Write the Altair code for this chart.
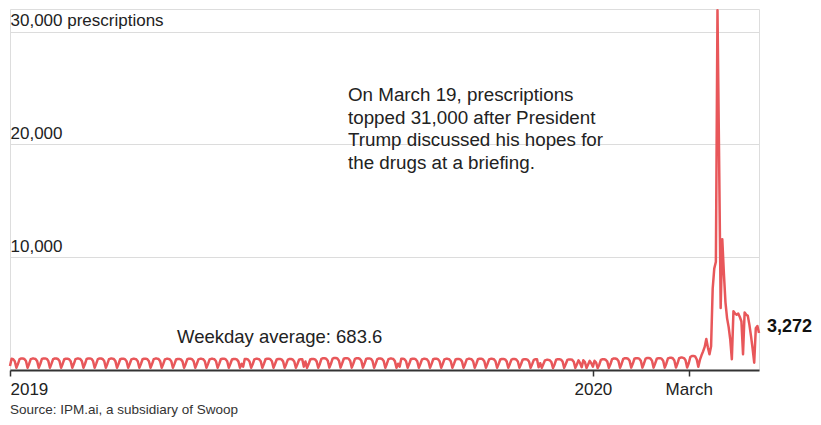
import altair as alt
import pandas as pd

# ---- values ----
# weekday level for each week (weeks start Monday 2018-12-31 ... 2020-02-24)
week_levels = [1000, 1020, 1010, 1030, 1020, 1000, 1010, 1030, 1020,
               1010, 1000, 990, 1000, 1010, 990, 980, 1000, 990,
               990, 1000, 980, 970, 990, 1000, 980, 970, 960,
               980, 1040, 1060, 1050, 1040, 1030, 1020, 1010, 1000,
               1000, 990, 1000, 990, 980, 990, 1000, 990, 980,
               970, 960, 950, 900, 960, 940, 900, 850,
               950, 1020, 1040, 1050, 1060, 1050, 1080, 1100]
# share of the weekday level, Monday ... Sunday
dow_profile = [0.95, 1.0, 1.0, 0.96, 0.78, 0.2, 0.55]
holiday_dates = ["2019-01-01", "2019-05-27", "2019-07-04", "2019-09-02",
                 "2019-11-28", "2019-11-29", "2019-12-24", "2019-12-25",
                 "2019-12-31", "2020-01-01"]
holiday_values = [350, 300, 300, 300, 250, 600, 600, 250, 600, 300]

# daily values from 2020-03-01 to 2020-04-14
tail_start = "2020-03-01"
tail_values = [600, 1150, 1250, 1250, 1200, 950, 280, 900, 1300, 1650,
               2050, 2750, 2000, 1400, 2100, 7200, 9000, 9600, 31900, 19000,
               5500, 11600, 8600, 6000, 4600, 3800, 2700, 950, 5200, 5000,
               4900, 5000, 4700, 4300, 1400, 5100, 4900, 4800, 4000, 3000,
               1900, 650, 3700, 3900, 3272]

y_ticks = [10000, 20000, 30000]
annotation_lines = ["On March 19, prescriptions",
                    "topped 31,000 after President",
                    "Trump discussed his hopes for",
                    "the drugs at a briefing."]
average_label = "Weekday average: 683.6"
source_label = "Source: IPM.ai, a subsidiary of Swoop"

# ---- build the table ----
base_dates = pd.date_range("2019-01-01", "2020-02-29", freq="D")
week0 = pd.Timestamp("2018-12-31")
hol = dict(zip(holiday_dates, holiday_values))
rows = []
for d in base_dates:
    key = d.strftime("%Y-%m-%d")
    wk = (d - week0).days // 7
    v = hol.get(key, round(week_levels[wk] * dow_profile[d.dayofweek]))
    rows.append({"date": key, "value": v})
for i, v in enumerate(tail_values):
    d = pd.Timestamp(tail_start) + pd.Timedelta(days=i)
    rows.append({"date": d.strftime("%Y-%m-%d"), "value": v})
df = pd.DataFrame(rows)

FONT = "Liberation Sans"
RED = "#e8575a"
TXT = "#222222"

x_enc = alt.X("date:T",
              scale=alt.Scale(type="utc",
                              domain=[alt.DateTime(year=2019, month=1, date=1, utc=True),
                                      alt.DateTime(year=2020, month=4, date=14, utc=True)]),
              axis=alt.Axis(title=None, grid=False,
                            values=[alt.DateTime(year=2019, month=1, date=1, utc=True),
                                    alt.DateTime(year=2020, month=1, date=1, utc=True),
                                    alt.DateTime(year=2020, month=3, date=1, utc=True)],
                            labelExpr="utcmonth(datum.value) == 2 ? 'March' : utcFormat(datum.value, '%Y')",
                            domainColor="#333333", domainWidth=2,
                            tickColor="#333333", tickWidth=1.5, tickSize=6,
                            labelFont=FONT, labelFontSize=17, labelColor=TXT,
                            labelPadding=5, labelFlush=True))
y_enc = alt.Y("value:Q",
              scale=alt.Scale(domain=[0, 32000], nice=False, zero=True),
              axis=alt.Axis(title=None, values=y_ticks, grid=True,
                            gridColor="#dcdcdc", gridWidth=1,
                            domain=False, ticks=False, tickSize=0,
                            labelAlign="left", labelBaseline="alphabetic",
                            labelPadding=0, labelOffset=-6,
                            labelExpr="datum.value == 30000 ? datum.label + ' prescriptions' : datum.label",
                            labelFont=FONT, labelFontSize=17, labelColor=TXT))

line = alt.Chart(df).mark_line(color=RED, strokeWidth=2.5, strokeJoin="round").encode(x=x_enc, y=y_enc)

last = alt.Chart(df.tail(1)).mark_text(align="left", baseline="alphabetic", dx=8, dy=-1,
                                       font=FONT, fontSize=18, fontWeight="bold",
                                       color="#111111").encode(
    x="date:T", y="value:Q", text=alt.Text("value:Q", format=","))

notes = pd.DataFrame({"k": [0]})
annot = alt.Chart(notes).mark_text(align="left", baseline="alphabetic", font=FONT, fontSize=18.8,
                                   lineHeight=22.6, color=TXT, text=annotation_lines).encode(
    x=alt.value(338), y=alt.value(92))
avg = alt.Chart(notes).mark_text(align="left", baseline="alphabetic", font=FONT, fontSize=18.5,
                                 color=TXT, text=average_label).encode(
    x=alt.value(167), y=alt.value(334))
src = alt.Chart(notes).mark_text(align="left", baseline="alphabetic", font=FONT, fontSize=13.5,
                                 color="#333333", text=source_label).encode(
    x=alt.value(0), y=alt.value(405))

chart = alt.layer(line, last, annot, avg, src).properties(
    width=749, height=361,
    autosize=alt.AutoSizeParams(type="none"),
    padding={"left": 2, "top": 1, "right": 54, "bottom": 47},
).configure_view(stroke=None).configure(background="white")

chart.save("out.html", embed_options={"renderer": "svg", "actions": False})
